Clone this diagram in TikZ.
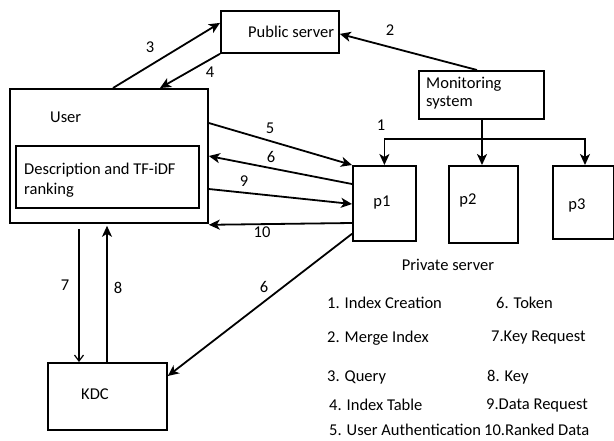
\documentclass[tikz,border=0pt]{standalone}
\usepackage{fontspec}
\setmainfont{Carlito}
\usetikzlibrary{arrows.meta,calc}
\begin{document}
\begin{tikzpicture}[x=1pt,y=-1pt,
  box/.style={draw,line width=1.8pt,anchor=north west,inner sep=0pt,minimum width=#1},
  txt/.style={font=\fontsize{16.5}{18}\selectfont,inner sep=0pt},
  num/.style={font=\fontsize{16.5}{18}\selectfont,inner sep=0pt},
  arr/.style={line width=1.8pt,-{Stealth[length=11pt,width=10pt,inset=3pt]}},
  thinarr/.style={line width=1.2pt,-{Straight Barb[length=6pt,width=9pt]}},
  link/.style={line width=1.8pt}]
\useasboundingbox (0,0) rectangle (614,440);
\fill[white] (0,0) rectangle (614,440);

% boxes
\node[box=118pt,minimum height=42pt] (pub) at (220,10) {};
\node[box=198pt,minimum height=134pt] (user) at (9,88) {};
\node[box=183pt,minimum height=62pt] (desc) at (15,145) {};
\node[box=125pt,minimum height=48pt] (mon) at (418,70) {};
\node[box=63pt,minimum height=75pt] (p1) at (352,165) {};
\node[box=69pt,minimum height=77pt] (p2) at (448,165) {};
\node[box=61pt,minimum height=73pt] (p3) at (552,165) {};
\node[box=119pt,minimum height=67pt] (kdc) at (47,362) {};

% box texts
\node[txt,anchor=west] (tpub) at (248,32) {Public server};
\node[txt,anchor=west] (tuser) at (50,117) {User};
\node[txt,anchor=west] (tdesc1) at (24,170) {Description and TF-iDF};
\node[txt,anchor=west] (tdesc2) at (24,190) {ranking};
\node[txt,anchor=west] (tmon1) at (426,84) {Monitoring};
\node[txt,anchor=west] (tmon2) at (426,103) {system};
\node[txt] (tp1) at (382,203) {p1};
\node[txt] (tp2) at (468,200) {p2};
\node[txt] (tp3) at (577,205) {p3};
\node[txt] (tpriv) at (448,265) {Private server};
\node[txt] (tkdc) at (95,394) {KDC};

% connectors
\draw[arr] ($(user.north west)+(104,0)$) -- ($(pub.west)+(0,-9)$);
\draw[arr] (pub.south west) -- ($(user.north west)+(151,0)$);
\draw[arr] ($(mon.north west)+(59,0)$) -- ($(pub.east)+(0,2)$);

\coordinate (bus) at ($(mon.south west)+(64,19)$);
\draw[link] ($(mon.south west)+(64,0)$) -- (bus);
\draw[arr] (bus) -| (p1.north);
\draw[arr] (bus) -- ($(p2.north west)+(34,0)$);
\draw[arr] (bus) -| ($(p3.north west)+(33,0)$);

\draw[arr] ($(user.north east)+(0,35)$) -- (p1.north west);
\draw[arr] ($(p1.north west)+(0,19)$) -- ($(user.north east)+(0,68)$);
\draw[arr] ($(user.north east)+(0,101)$) -- ($(p1.north west)+(0,39)$);
\draw[arr] ($(p1.north west)+(0,58)$) -- ($(user.south east)+(0,1)$);
\draw[arr] ($(p1.south west)+(0,-8)$) -- ($(kdc.north east)+(0,14)$);
\draw[thinarr] ($(user.south west)+(70,5)$) -- ($(kdc.north west)+(32,0)$);
\draw[arr] ($(kdc.north west)+(60,0)$) -- ($(user.south west)+(98,2)$);

% flow numbers
\node[num] (n3) at (150,47) {3};
\node[num] (n4) at (210,72) {4};
\node[num] (n2) at (390,30) {2};
\node[num] (n1) at (381,125) {1};
\node[num] (n5) at (270,128) {5};
\node[num] (n6a) at (271,157) {6};
\node[num] (n9) at (244,181) {9};
\node[num] (n10) at (262,232) {10};
\node[num] (n6b) at (264,287) {6};
\node[num] (n7) at (65,285) {7};
\node[num] (n8) at (118,288) {8};

% legend
\node[txt,anchor=west] (l1) at (327,303) {1. Index Creation};
\node[txt,anchor=west] (l2) at (327,338) {2. Merge Index};
\node[txt,anchor=west] (l3) at (327,377) {3. Query};
\node[txt,anchor=west] (l4) at (329,405) {4. Index Table};
\node[txt,anchor=west] (l5) at (329,430) {5. User Authentication};
\node[txt,anchor=west] (l6) at (496,303) {6. Token};
\node[txt,anchor=west] (l7) at (491,338) {7.Key Request};
\node[txt,anchor=west] (l8) at (487,377) {8. Key};
\node[txt,anchor=west] (l9) at (486,405) {9.Data Request};
\node[txt,anchor=west] (l10) at (484,430) {10.Ranked Data};
\end{tikzpicture}
\end{document}
